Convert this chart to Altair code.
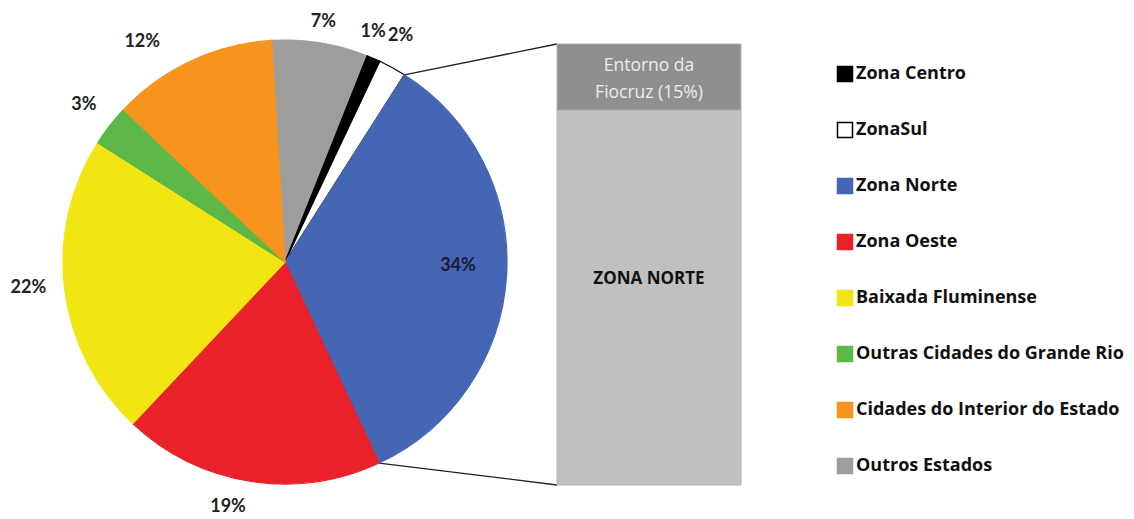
import math
import json
import altair as alt
import pandas as pd

# ---- data ----
categories = ["Outros Estados", "Zona Centro", "ZonaSul", "Zona Norte", "Zona Oeste",
              "Baixada Fluminense", "Outras Cidades do Grande Rio", "Cidades do Interior do Estado"]
shares = [7, 1, 2, 34, 19, 22, 3, 12]
legend_order = ["Zona Centro", "ZonaSul", "Zona Norte", "Zona Oeste", "Baixada Fluminense",
                "Outras Cidades do Grande Rio", "Cidades do Interior do Estado", "Outros Estados"]
legend_colors = ["#000000", "#ffffff", "#4566b4", "#e8212a", "#f2e514", "#5cb847", "#f7941d", "#9d9d9d"]
legend_strokes = ["#000000", "#000000", "#4566b4", "#e8212a", "#f2e514", "#5cb847", "#f7941d", "#9d9d9d"]

bar_parts = ["ZONA NORTE", "Entorno da\nFiocruz (15%)"]
bar_values = [85, 15]

# ---- layout (view coordinates) ----
FONT = "Lato"
LFONT = "Open Sans"
cx, cy, R = 277, 254, 222
start = math.radians(-3.5)
bar_x1, bar_x2, bar_top, bar_bot = 549, 733, 36, 477

# label placement nudges (angle shift in % units, radius in px), like Excel's best-fit labels
label_shift = {"Outros Estados": 0, "Zona Centro": -0.7, "ZonaSul": -0.5, "Zona Norte": -0.67,
               "Zona Oeste": 1.1, "Baixada Fluminense": 0.36, "Outras Cidades do Grande Rio": 0,
               "Cidades do Interior do Estado": -2.2}
label_radius = {"Outros Estados": 243, "Zona Centro": 246, "ZonaSul": 254, "Zona Norte": 173,
                "Zona Oeste": 252, "Baixada Fluminense": 258, "Outras Cidades do Grande Rio": 255,
                "Cidades do Interior do Estado": 262}

pie_df = pd.DataFrame({"cat": categories, "value": shares, "ord": list(range(len(categories)))})
bar_df = pd.DataFrame({"part": bar_parts, "value": bar_values, "ord": [0, 1]})

theta_scale = alt.Scale(domain=[0, 100], range=[start, start + 2 * math.pi])

legend = alt.Legend(orient="none", legendX=828, legendY=57, title=None, symbolType="square",
                    symbolSize=225, labelFontSize=18, labelFont=LFONT, labelFontWeight="bold",
                    labelColor="#111111", rowPadding=34, labelOffset=2, symbolStrokeWidth=1.5,
                    labelLimit=400)

pie_base = alt.Chart(pie_df).transform_window(
    cum="sum(value)", sort=[alt.SortField("ord")], frame=[None, 0]
).transform_calculate(
    lo="datum.cum - datum.value",
    mid=f"datum.cum - datum.value / 2 + {json.dumps(label_shift)}[datum.cat]",
    rad=f"{json.dumps(label_radius)}[datum.cat]",
    label="datum.value + '%'"
)

arcs = pie_base.mark_arc(strokeWidth=1.2).encode(
    theta=alt.Theta("lo:Q", scale=theta_scale, stack=False),
    theta2="cum:Q",
    radius=alt.value(R),
    x=alt.value(cx), y=alt.value(cy),
    fill=alt.Fill("cat:N", scale=alt.Scale(domain=legend_order, range=legend_colors), legend=legend),
    stroke=alt.Stroke("cat:N", scale=alt.Scale(domain=legend_order, range=legend_strokes), legend=legend),
)

labels_out = pie_base.transform_filter("datum.cat != 'Zona Norte'").mark_text(
    font=FONT, fontSize=18, fontWeight="bold", color="#222222"
).encode(
    theta=alt.Theta("mid:Q", scale=theta_scale, stack=False),
    radius=alt.Radius("rad:Q", scale=None), x=alt.value(cx), y=alt.value(cy), text="label:N"
)

labels_in = pie_base.transform_filter("datum.cat == 'Zona Norte'").mark_text(
    font=FONT, fontSize=18, fontWeight="bold", color="#1a1a3a"
).encode(
    theta=alt.Theta("mid:Q", scale=theta_scale, stack=False),
    radius=alt.Radius("rad:Q", scale=None), x=alt.value(cx), y=alt.value(cy), text="label:N"
)

# connector lines from the Zona Norte slice edges to the bar corners
a1 = start + 2 * math.pi * sum(shares[:3]) / 100
a2 = start + 2 * math.pi * sum(shares[:4]) / 100
p1 = (cx + R * math.sin(a1), cy - R * math.cos(a1))
p2 = (cx + R * math.sin(a2), cy - R * math.cos(a2))
conn_src = pie_base.transform_filter("datum.cat == 'Zona Norte'")
conn1 = conn_src.mark_rule(color="#222222", strokeWidth=1.3).encode(
    x=alt.value(p1[0]), y=alt.value(p1[1]), x2=alt.value(bar_x1), y2=alt.value(bar_top))
conn2 = conn_src.mark_rule(color="#222222", strokeWidth=1.3).encode(
    x=alt.value(p2[0]), y=alt.value(p2[1]), x2=alt.value(bar_x1), y2=alt.value(bar_bot))

bar_base = alt.Chart(bar_df).transform_window(
    hi="sum(value)", sort=[alt.SortField("ord")], frame=[None, 0]
).transform_calculate(lo="datum.hi - datum.value", mid="datum.hi - datum.value / 2")

y_scale = alt.Scale(domain=[0, 100], range=[bar_bot, bar_top])

bars = bar_base.mark_rect(stroke="#b3b3b3", strokeWidth=1).encode(
    x=alt.value(bar_x1), x2=alt.value(bar_x2),
    y=alt.Y("lo:Q", scale=y_scale, axis=None), y2="hi:Q",
    fill=alt.condition("datum.ord == 1", alt.value("#8f8f8f"), alt.value("#c0c0c0")),
)

bar_text_top = bar_base.transform_filter("datum.ord == 1").mark_text(
    font=LFONT, fontSize=17.5, color="#ececec", lineBreak="\n", lineHeight=27, dy=-11
).encode(x=alt.value((bar_x1 + bar_x2) / 2), y=alt.Y("mid:Q", scale=y_scale, axis=None), text="part:N")

bar_text_main = bar_base.transform_filter("datum.ord == 0").mark_text(
    font=LFONT, fontSize=17, fontWeight="bold", color="#111111", dy=-19
).encode(x=alt.value((bar_x1 + bar_x2) / 2), y=alt.Y("mid:Q", scale=y_scale, axis=None), text="part:N")

chart = alt.layer(
    conn1, conn2, arcs, labels_out, labels_in, bars, bar_text_top, bar_text_main
).properties(
    width=1118, height=511, padding=0, autosize=alt.AutoSizeParams(type="none")
).configure_view(stroke=None)

chart.save("out.html", embed_options={"renderer": "svg", "actions": False})
